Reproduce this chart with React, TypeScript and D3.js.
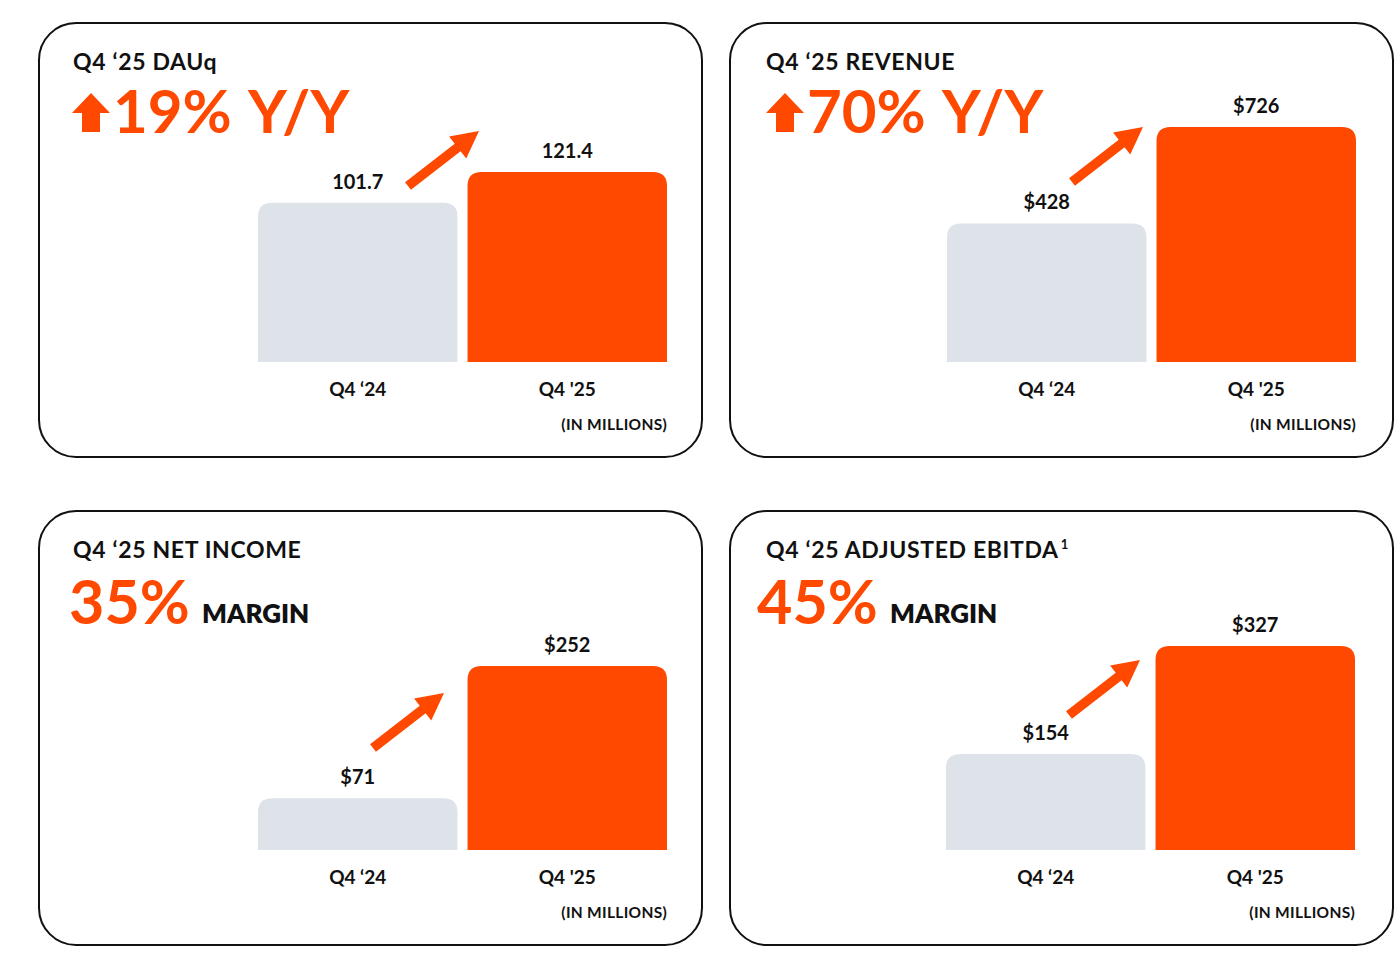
import * as d3 from 'd3'

// values
const categories = ['Q4 ‘24', "Q4 '25"]
const panelTitles = ['Q4 ‘25 DAUq', 'Q4 ‘25 REVENUE', 'Q4 ‘25 NET INCOME', 'Q4 ‘25 ADJUSTED EBITDA']
const titleNotes = ['', '', '', '1']
const headlines = ['19%', '70%', '35%', '45%']
const headlineSuffix = ['Y/Y', 'Y/Y', 'MARGIN', 'MARGIN']
const headlineUpArrow = [true, true, false, false]
const prevValues = [101.7, 428, 71, 154]
const currValues = [121.4, 726, 252, 327]
const valuePrefix = ['', '$', '$', '$']
const unitNote = '(IN MILLIONS)'

// layout (pixels)
const panelOrigins: [number, number][] = [[39, 23], [730, 23], [39, 511], [730, 511]]
const titleInset = [34, 36, 34, 36]
const headInset = [33, 36, 30, 27]
const barInset = [219, 217, 219, 216]
const tallestBar = [190, 235, 184, 204]
const arrowTails: [number, number][] = [[369, 163], [342, 159], [334, 237], [339, 204]]

const W = 1400, H = 978
const PW = 663, PH = 434
const ORANGE = '#FF4800'
const GREY = '#DDE3E9'
const FONT = 'Lato, "Open Sans", sans-serif'

function topRounded(x: number, y: number, w: number, h: number, r: number) {
  const rr = Math.min(r, h, w / 2)
  return `M${x},${y + h}V${y + rr}Q${x},${y} ${x + rr},${y}H${x + w - rr}Q${x + w},${y} ${x + w},${y + rr}V${y + h}Z`
}

function diagArrow(x0: number, y0: number, x1: number, y1: number) {
  const dx = x1 - x0, dy = y1 - y0
  const len = Math.hypot(dx, dy)
  const ux = dx / len, uy = dy / len
  const nx = -uy, ny = ux
  const sw = 4.8, hw = 14, hl = 27
  const bx = x1 - ux * hl, by = y1 - uy * hl
  const pts: [number, number][] = [
    [x0 + nx * sw, y0 + ny * sw],
    [bx + nx * sw, by + ny * sw],
    [bx + nx * hw, by + ny * hw],
    [x1, y1],
    [bx - nx * hw, by - ny * hw],
    [bx - nx * sw, by - ny * sw],
    [x0 - nx * sw, y0 - ny * sw],
  ]
  return d3.line()(pts) + 'Z'
}

function upArrow(x: number, yBase: number) {
  // 38 wide, 39 tall
  const pts: [number, number][] = [
    [x + 10, yBase], [x + 10, yBase - 19], [x, yBase - 19], [x + 19, yBase - 39],
    [x + 38, yBase - 19], [x + 28, yBase - 19], [x + 28, yBase],
  ]
  return d3.line()(pts) + 'Z'
}

function Panel({ i }: { i: number }) {
  const [px, py] = panelOrigins[i]
  const base = py + 339
  const x = d3.scaleBand<string>().domain(categories)
    .range([px + barInset[i], px + barInset[i] + 409]).paddingInner(0.048).paddingOuter(0)
  const y = d3.scaleLinear().domain([0, currValues[i]]).range([base, base - tallestBar[i]])
  const vals = [prevValues[i], currValues[i]]
  const fmt = (v: number) => valuePrefix[i] + (v % 1 === 0 ? d3.format(',')(v) : d3.format('.1f')(v))
  const bw = x.bandwidth()
  const [tx, ty] = arrowTails[i]
  const hasUp = headlineUpArrow[i]
  const hx = px + headInset[i]

  return (
    <g>
      <rect x={px} y={py} width={PW} height={PH} rx={37} ry={37} fill="#fff" stroke="#111" strokeWidth={2} />
      <text x={px + titleInset[i]} y={py + 47} fontSize={23} fontWeight={700} letterSpacing={0.65} fill="#111" fontFamily={FONT}>
        {panelTitles[i]}
        {titleNotes[i] && <tspan fontSize={13} dy={-9} dx={2}>{titleNotes[i]}</tspan>}
      </text>
      {hasUp ? (
        <>
          <path d={upArrow(hx, py + 109)} fill={ORANGE} />
          <text x={hx + 41} y={py + 110} fontSize={60} fontWeight={700} fill={ORANGE} fontFamily={FONT}>
            {headlines[i]}
            <tspan dx={4}>{' ' + headlineSuffix[i]}</tspan>
          </text>
        </>
      ) : (
        <>
          <text x={hx} y={py + 113} fontSize={61} fontWeight={700} fill={ORANGE} fontFamily={FONT}>
            {headlines[i]}
          </text>
          <text x={hx + 133} y={py + 112} fontSize={26} fontWeight={800} fill="#111" fontFamily={FONT}>
            {headlineSuffix[i]}
          </text>
        </>
      )}
      {vals.map((v, j) => {
        const bx = x(categories[j])!
        const top = y(v)
        return (
          <g key={j}>
            <path d={topRounded(bx, top, bw, base - top, 14)} fill={j === 0 ? GREY : ORANGE} />
            <text x={bx + bw / 2} y={top - 14} textAnchor="middle" fontSize={20} fontWeight={700} fill="#111" fontFamily={FONT}>
              {fmt(v)}
            </text>
            <text x={bx + bw / 2} y={base + 34} textAnchor="middle" fontSize={19} fontWeight={700} fill="#111" fontFamily={FONT}>
              {categories[j]}
            </text>
          </g>
        )
      })}
      <path d={diagArrow(px + tx, py + ty, px + tx + 71, py + ty - 55)} fill={ORANGE} />
      <text x={x(categories[1])! + bw} y={base + 68} textAnchor="end" fontSize={15.5} fontWeight={700} letterSpacing={0.3} fill="#111" fontFamily={FONT}>
        {unitNote}
      </text>
    </g>
  )
}

export default function App() {
  return (
    <svg width={W} height={H} viewBox={`0 0 ${W} ${H}`}
      style={{ position: 'absolute', left: 0, top: 0, display: 'block', background: '#fff' }}>
      {panelTitles.map((_, i) => <Panel key={i} i={i} />)}
    </svg>
  )
}
